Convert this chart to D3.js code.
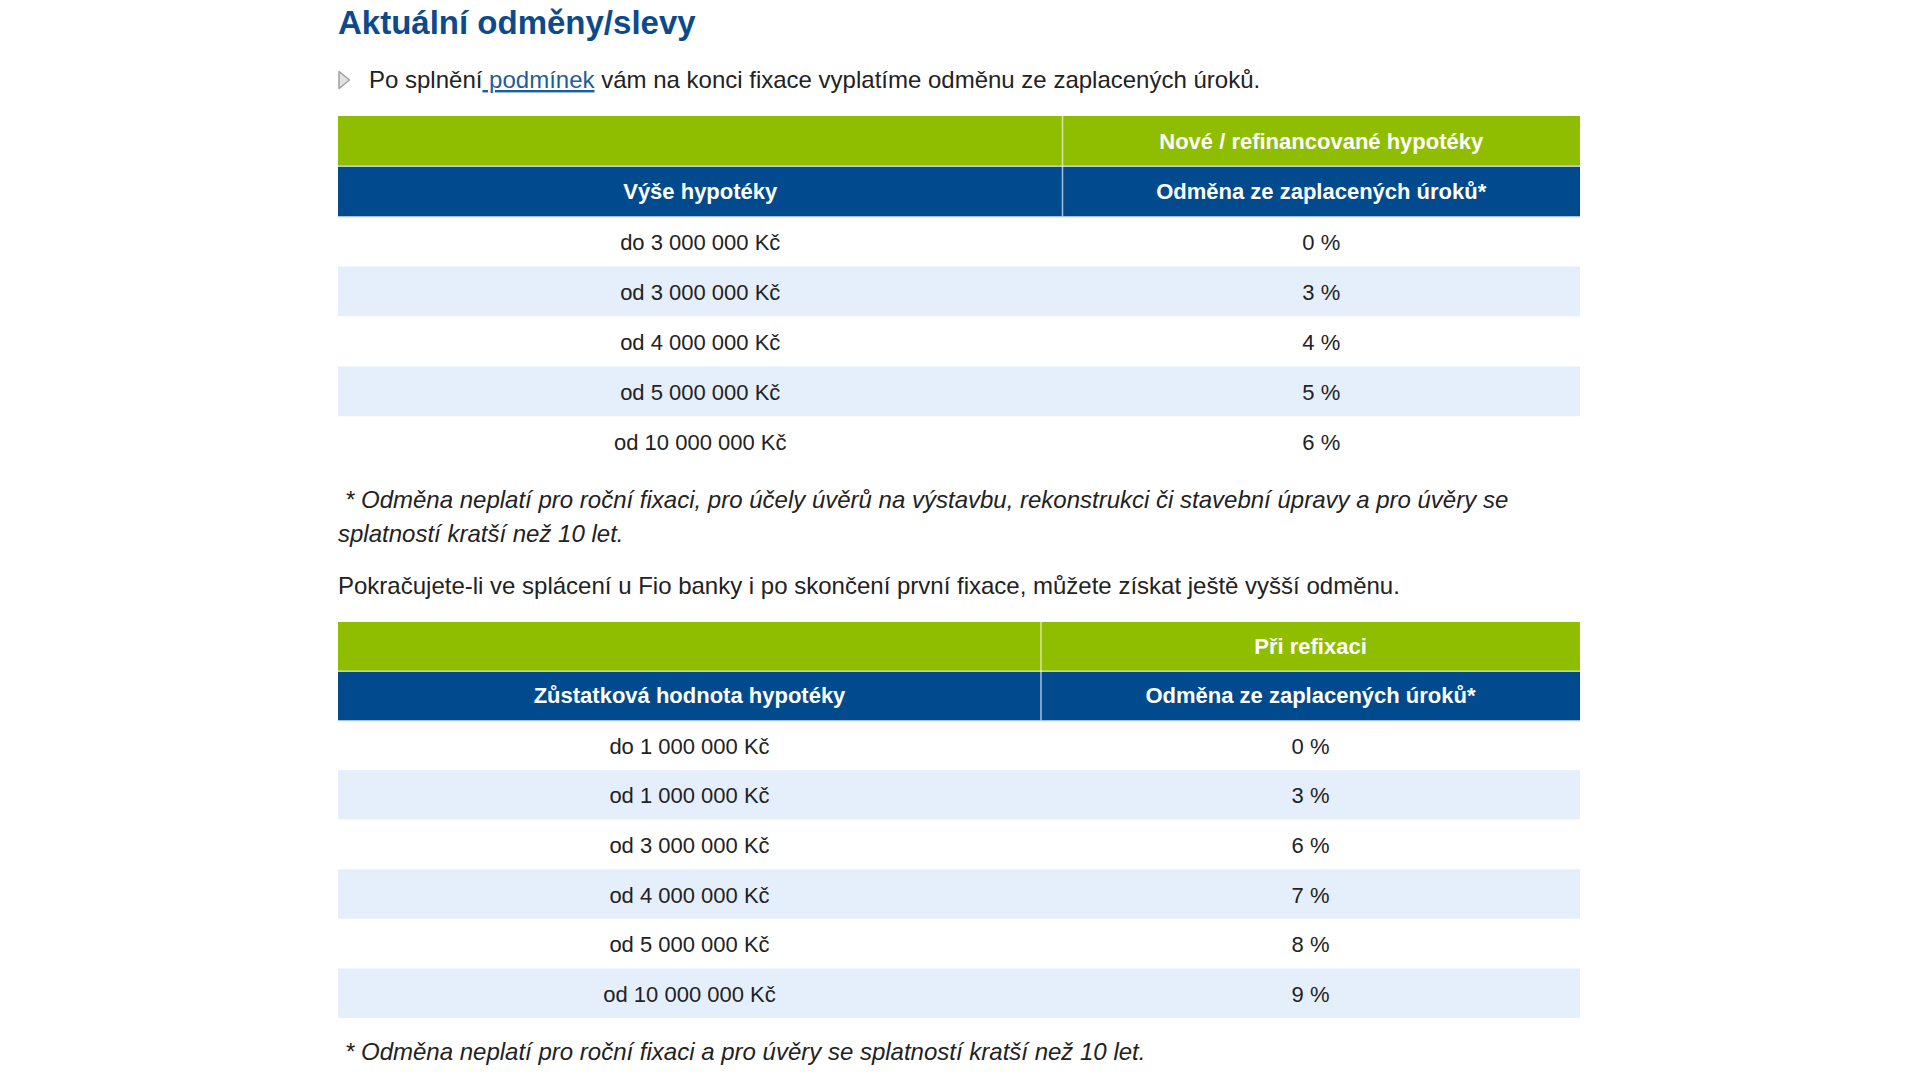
<!DOCTYPE html>
<html lang="cs">
<head>
<meta charset="utf-8">
<title>Aktuální odměny/slevy</title>
<script src="https://cdn.jsdelivr.net/npm/d3@7"></script>
<style>
  html, body { margin: 0; padding: 0; background: #ffffff; }
  svg { display: block; }
  text { font-family: "Liberation Sans", Arial, Helvetica, sans-serif; }
</style>
</head>
<body>
<div id="chart"></div>
<script>
// ---------- data ----------
const pageTitle = "Aktuální odměny/slevy";
const introBefore = "Po splnění";
const introLink = " podmínek";
const introAfter = " vám na konci fixace vyplatíme odměnu ze zaplacených úroků.";

const table1GroupHeader = "Nové / refinancované hypotéky";
const table1ColHeaders = ["Výše hypotéky", "Odměna ze zaplacených úroků*"];
const table1Amounts = ["do 3 000 000 Kč", "od 3 000 000 Kč", "od 4 000 000 Kč", "od 5 000 000 Kč", "od 10 000 000 Kč"];
const table1Rewards = [0, 3, 4, 5, 6];
const table1Footnote = [
  "* Odměna neplatí pro roční fixaci, pro účely úvěrů na výstavbu, rekonstrukci či stavební úpravy a pro úvěry se",
  "splatností kratší než 10 let."
];

const middleText = "Pokračujete-li ve splácení u Fio banky i po skončení první fixace, můžete získat ještě vyšší odměnu.";

const table2GroupHeader = "Při refixaci";
const table2ColHeaders = ["Zůstatková hodnota hypotéky", "Odměna ze zaplacených úroků*"];
const table2Amounts = ["do 1 000 000 Kč", "od 1 000 000 Kč", "od 3 000 000 Kč", "od 4 000 000 Kč", "od 5 000 000 Kč", "od 10 000 000 Kč"];
const table2Rewards = [0, 3, 6, 7, 8, 9];
const table2Footnote = ["* Odměna neplatí pro roční fixaci a pro úvěry se splatností kratší než 10 let."];

// ---------- style ----------
const W = 1920, H = 1080;
const C = {
  title: "#0d4a8c",
  text: "#222222",
  link: "#1f5c9e",
  green: "#8fbe00",
  blue: "#004a8d",
  stripe: "#e5effb",
  sep: "rgba(255,255,255,0.65)"
};

const svg = d3.select("#chart").append("svg")
  .attr("width", W).attr("height", H)
  .attr("viewBox", `0 0 ${W} ${H}`);

svg.append("rect").attr("width", W).attr("height", H).attr("fill", "#fff");

const left = 338, right = 1580;

// title
svg.append("text")
  .attr("x", left).attr("y", 34)
  .attr("font-size", 33).attr("font-weight", "bold")
  .attr("fill", C.title)
  .text(pageTitle);

// bullet
svg.append("path")
  .attr("d", d3.line()([[339, 71.5], [349.5, 80], [339, 88.5]]) + "Z")
  .attr("fill", "#e2e2e2").attr("stroke", "#a0a0a0").attr("stroke-width", 1.5)
  .attr("stroke-linejoin", "round");

const intro = svg.append("text")
  .attr("x", 369).attr("y", 88)
  .attr("font-size", 24).attr("fill", C.text);
intro.append("tspan").text(introBefore);
intro.append("tspan").attr("fill", C.link).attr("text-decoration", "underline").text(introLink);
intro.append("tspan").text(introAfter);

// ---------- table builder ----------
function drawTable(cfg) {
  const g = svg.append("g");
  const x = d3.scaleOrdinal().domain([0, 1, 2]).range([left, cfg.divider, right]);
  const colCenter = i => (x(i) + x(i + 1)) / 2;

  const headY = d3.scaleBand().domain(["group", "cols"]).range([cfg.top, cfg.headBottom]);
  const rowY = d3.scaleBand().domain(d3.range(cfg.amounts.length)).range([cfg.headBottom, cfg.bottom]);

  // body stripes
  g.selectAll("rect.row").data(cfg.amounts).join("rect")
    .attr("class", "row")
    .attr("x", left).attr("width", right - left)
    .attr("y", (d, i) => rowY(i)).attr("height", rowY.bandwidth())
    .attr("fill", (d, i) => i % 2 ? C.stripe : "#ffffff");

  // header rows
  g.append("rect").attr("x", left).attr("width", right - left)
    .attr("y", headY("group")).attr("height", headY.bandwidth()).attr("fill", C.green);
  g.append("rect").attr("x", left).attr("width", right - left)
    .attr("y", headY("cols")).attr("height", headY.bandwidth()).attr("fill", C.blue);

  // header separators
  g.append("line").attr("x1", left).attr("x2", right)
    .attr("y1", headY("cols")).attr("y2", headY("cols"))
    .attr("stroke", C.sep).attr("stroke-width", 1.5);
  g.append("line").attr("x1", cfg.divider).attr("x2", cfg.divider)
    .attr("y1", cfg.top).attr("y2", cfg.headBottom)
    .attr("stroke", C.sep).attr("stroke-width", 1.5);
  g.append("line").attr("x1", left).attr("x2", right)
    .attr("y1", cfg.headBottom + 0.5).attr("y2", cfg.headBottom + 0.5)
    .attr("stroke", "#cfe0f4").attr("stroke-width", 1);

  // header texts
  g.append("text")
    .attr("x", colCenter(1)).attr("y", headY("group") + headY.bandwidth() / 2 + 7.5)
    .attr("text-anchor", "middle").attr("font-size", 22).attr("font-weight", "bold")
    .attr("fill", "#ffffff").text(cfg.group);
  g.selectAll("text.colh").data(cfg.colHeaders).join("text")
    .attr("class", "colh")
    .attr("x", (d, i) => colCenter(i)).attr("y", headY("cols") + headY.bandwidth() / 2 + 7.5)
    .attr("text-anchor", "middle").attr("font-size", 22).attr("font-weight", "bold")
    .attr("fill", "#ffffff").text(d => d);

  // body texts
  g.selectAll("text.amt").data(cfg.amounts).join("text")
    .attr("class", "amt")
    .attr("x", colCenter(0)).attr("y", (d, i) => rowY(i) + rowY.bandwidth() / 2 + 8.5)
    .attr("text-anchor", "middle").attr("font-size", 22).attr("fill", C.text)
    .text(d => d);
  g.selectAll("text.rew").data(cfg.rewards).join("text")
    .attr("class", "rew")
    .attr("x", colCenter(1)).attr("y", (d, i) => rowY(i) + rowY.bandwidth() / 2 + 8.5)
    .attr("text-anchor", "middle").attr("font-size", 22).attr("fill", C.text)
    .text(d => d + " %");
}

drawTable({
  top: 116, headBottom: 216.5, bottom: 466.5, divider: 1062.5,
  group: table1GroupHeader, colHeaders: table1ColHeaders,
  amounts: table1Amounts, rewards: table1Rewards
});

drawTable({
  top: 622, headBottom: 720.5, bottom: 1018, divider: 1041,
  group: table2GroupHeader, colHeaders: table2ColHeaders,
  amounts: table2Amounts, rewards: table2Rewards
});

// footnotes and text
svg.selectAll("text.fn1").data(table1Footnote).join("text")
  .attr("class", "fn1")
  .attr("x", (d, i) => i === 0 ? 345 : left)
  .attr("y", (d, i) => 508 + i * 34)
  .attr("font-size", 24).attr("font-style", "italic").attr("fill", C.text)
  .text(d => d);

svg.append("text")
  .attr("x", left).attr("y", 594)
  .attr("font-size", 24).attr("fill", C.text)
  .text(middleText);

svg.selectAll("text.fn2").data(table2Footnote).join("text")
  .attr("class", "fn2")
  .attr("x", 345).attr("y", 1060)
  .attr("font-size", 24).attr("font-style", "italic").attr("fill", C.text)
  .text(d => d);
</script>
</body>
</html>
